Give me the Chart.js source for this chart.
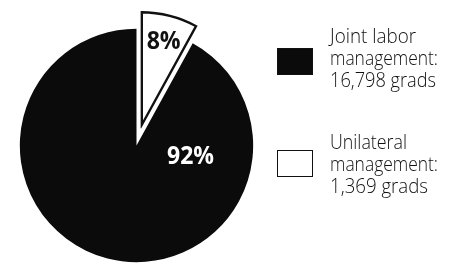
<!DOCTYPE html>
<html>
<head>
<meta charset="utf-8">
<script src="https://cdn.jsdelivr.net/npm/chart.js@4/dist/chart.umd.min.js"></script>
<style>
  html, body { margin: 0; padding: 0; background: #fff; }
  #wrap { position: relative; width: 453px; height: 265px; }
</style>
</head>
<body>
<div id="wrap"><canvas id="c" width="453" height="265"></canvas></div>
<script>
// ---- data ----
const categories = ["Unilateral management", "Joint labor management"];
const percents = [8, 92];
const grads = [1369, 16798];
const legendLines = [
  ["Joint labor", "management:", "16,798 grads"],
  ["Unilateral", "management:", "1,369 grads"]
];
const pctLabels = ["8%", "92%"];
const explode = [18, 0];

const sliceColors = ["#ffffff", "#0b0b0b"];

// pure translation of an exploded slice (keeps its radius)
const ArcProto = Chart.ArcElement.prototype;
const baseArcDraw = ArcProto.draw;
ArcProto.draw = function (ctx) {
  const s = this.explodeShift || 0;
  if (!s) return baseArcDraw.call(this, ctx);
  const mid = (this.startAngle + this.endAngle) / 2;
  ctx.save();
  ctx.translate(Math.cos(mid) * s, Math.sin(mid) * s);
  baseArcDraw.call(this, ctx);
  ctx.restore();
};

const explodePlugin = {
  id: 'explode',
  afterDatasetUpdate(chart, args) {
    const meta = chart.getDatasetMeta(args.index);
    meta.data.forEach((el, i) => { el.explodeShift = explode[i] || 0; });
  }
};

const labelPlugin = {
  id: 'labels',
  afterDatasetsDraw(chart) {
    const ctx = chart.ctx;
    const meta = chart.getDatasetMeta(0);
    ctx.save();
    ctx.textAlign = 'center';
    ctx.textBaseline = 'alphabetic';
    ctx.font = 'bold 25px "Open Sans", "DejaVu Sans", sans-serif';
    const a0 = meta.data[0];
    const mid0 = (a0.startAngle + a0.endAngle) / 2;
    const r0 = (a0.explodeShift || 0) + a0.outerRadius * 0.78;
    ctx.fillStyle = '#111';
    ctx.fillText(pctLabels[0], a0.x + Math.cos(mid0) * r0, a0.y + Math.sin(mid0) * r0 + 9, 34);
    const a1 = meta.data[1];
    const ang1 = Math.PI * 0.06;
    const r1 = a1.outerRadius * 0.47;
    ctx.fillStyle = '#fff';
    ctx.fillText(pctLabels[1], a1.x + Math.cos(ang1) * r1, a1.y + Math.sin(ang1) * r1 + 8, 47);
    ctx.restore();
  }
};

const legendPlugin = {
  id: 'sideLegend',
  afterDraw(chart) {
    const ctx = chart.ctx;
    ctx.save();
    const items = [
      { color: sliceColors[1], lines: legendLines[0], boxTop: 48, firstBase: 43, widths: [86, 108, 106] },
      { color: sliceColors[0], lines: legendLines[1], boxTop: 150, firstBase: 149, widths: [77, 108, 98] }
    ];
    items.forEach((it) => {
      ctx.fillStyle = it.color;
      ctx.fillRect(277, it.boxTop, 36, 27);
      ctx.strokeStyle = '#111';
      ctx.lineWidth = 1;
      ctx.strokeRect(277.5, it.boxTop + 0.5, 35, 26);
      ctx.fillStyle = '#111';
      ctx.font = '300 21px "Open Sans", "Lato", "DejaVu Sans", sans-serif';
      ctx.textAlign = 'left';
      ctx.textBaseline = 'alphabetic';
      it.lines.forEach((t, i) => {
        ctx.fillText(t, 330, it.firstBase + i * 22, it.widths[i]);
      });
    });
    ctx.restore();
  }
};

new Chart(document.getElementById('c'), {
  type: 'pie',
  data: {
    labels: categories,
    datasets: [{
      data: percents,
      backgroundColor: sliceColors,
      borderColor: ['#111', '#0b0b0b'],
      borderWidth: [2, 0],
      borderAlign: 'inner',
      clip: false
    }]
  },
  options: {
    responsive: false,
    animation: false,
    radius: 117,
    layout: { padding: { left: 0, right: 180, top: 26, bottom: 0 } },
    plugins: { legend: { display: false }, tooltip: { enabled: false } }
  },
  plugins: [explodePlugin, labelPlugin, legendPlugin]
});
</script>
</body>
</html>
